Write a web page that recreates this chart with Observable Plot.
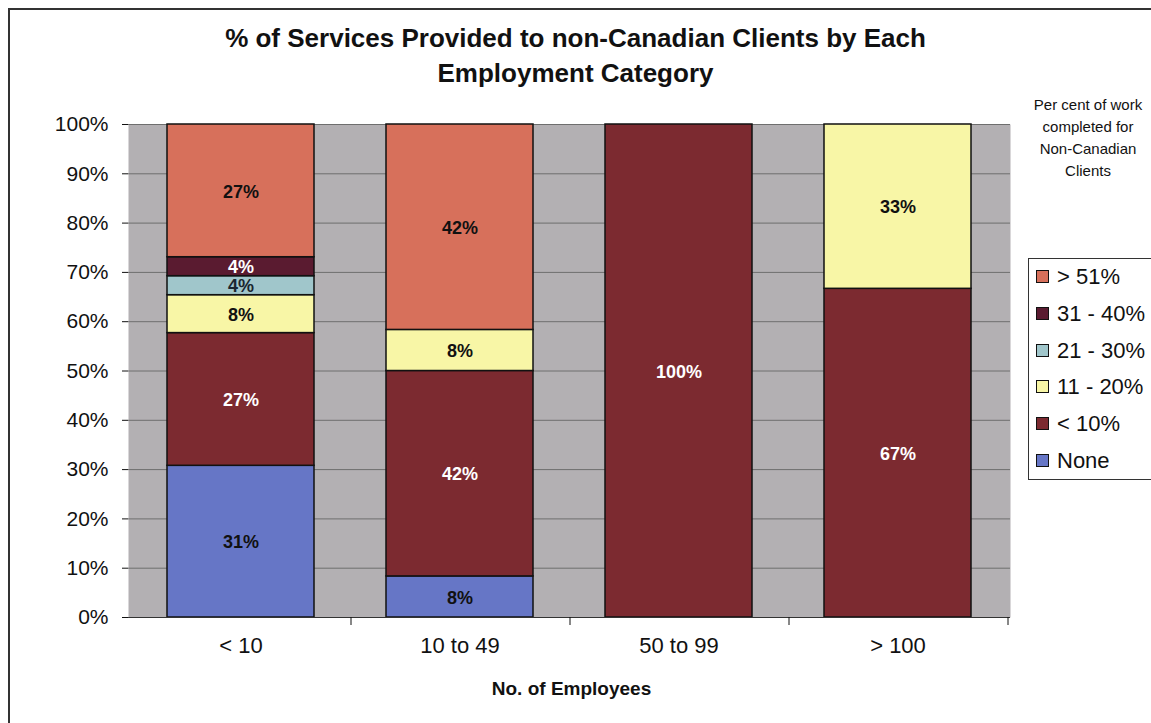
<!DOCTYPE html>
<html>
<head>
<meta charset="utf-8">
<script src="https://cdn.jsdelivr.net/npm/d3@7"></script>
<script src="https://cdn.jsdelivr.net/npm/@observablehq/plot@0.6"></script>
<style>
  html, body { margin: 0; padding: 0; background: #fff; }
  body { width: 1151px; height: 723px; overflow: hidden; position: relative; font-family: Arial, "Liberation Sans", sans-serif; }
  #frame { position: absolute; left: 8px; top: 8px; width: 1160px; height: 730px; border: 2px solid #333; box-sizing: border-box; }
  #chart { position: absolute; left: 0; top: 0; }
  #title { position: absolute; left: 0; width: 1151px; top: 21px; text-align: center; font-weight: bold; font-size: 26px; line-height: 35px; color: #111; }
  #xtitle { position: absolute; left: 0; width: 1143px; top: 678px; text-align: center; font-weight: bold; font-size: 19px; color: #111; }
  #legtitle { position: absolute; left: 1020px; width: 136px; top: 94px; text-align: center; font-size: 15px; line-height: 22px; color: #111; }
  #legend { position: absolute; left: 1028px; top: 258px; width: 140px; height: 222px; border: 1px solid #333; box-sizing: border-box; }
  .item { position: absolute; left: 7px; font-size: 22px; color: #111; line-height: 22px; white-space: nowrap; }
  .sw { display: inline-block; width: 11px; height: 11px; border: 1px solid #111; margin-right: 8px; vertical-align: 1px; }
</style>
</head>
<body>
<div id="frame"></div>
<div id="chart"></div>
<div id="title">% of Services Provided to non-Canadian Clients by Each<br>Employment Category</div>
<div id="xtitle">No. of Employees</div>
<div id="legtitle">Per cent of work<br>completed for<br>Non-Canadian<br>Clients</div>
<div id="legend"></div>
<script>
const categories = ["< 10", "10 to 49", "50 to 99", "> 100"];
const series = ["None", "< 10%", "11 - 20%", "21 - 30%", "31 - 40%", "> 51%"];
const seriesColors = ["#6676c6", "#7c2a30", "#f8f6a6", "#a0c6cb", "#5a1b30", "#d7705b"];
const labelColors = ["#111", "#fff", "#111", "#1a2630", "#fff", "#111"];
const valuesLt10 = [30.77, 26.92, 7.69, 3.85, 3.85, 26.92];
const values10to49 = [8.33, 41.67, 8.33, 0, 0, 41.67];
const values50to99 = [0, 100, 0, 0, 0, 0];
const valuesGt100 = [0, 66.67, 33.33, 0, 0, 0];
const yTicks = [0, 10, 20, 30, 40, 50, 60, 70, 80, 90, 100];

const valueSets = [valuesLt10, values10to49, values50to99, valuesGt100];
const rows = [];
categories.forEach((c, ci) => {
  series.forEach((s, si) => {
    const v = valueSets[ci][si];
    if (v > 0) rows.push({category: c, series: s, value: v, si});
  });
});

const chart = Plot.plot({
  width: 1151,
  height: 723,
  marginLeft: 128,
  marginRight: 141,
  marginTop: 124,
  marginBottom: 106,
  style: {fontFamily: "Arial, 'Liberation Sans', sans-serif", fontSize: "18px", color: "#111", background: "transparent"},
  x: {domain: categories, paddingInner: 0.33, paddingOuter: 0.175, label: null},
  y: {domain: [0, 100], label: null},
  color: {type: "identity"},
  marks: [
    Plot.frame({fill: "#b3b0b3", stroke: null}),
    Plot.gridY(yTicks, {stroke: "#6e6e6e", strokeOpacity: 1, strokeWidth: 1}),
    Plot.barY(rows, {x: "category", y: "value", z: "series", fill: d => seriesColors[d.si], stroke: "#111", strokeWidth: 1.5}),
    Plot.text(rows, Plot.stackY({x: "category", y: "value", z: "series",
      text: d => Math.round(d.value) + "%", fill: d => labelColors[d.si],
      fontWeight: "bold", fontSize: 18, dy: 1})),
    Plot.ruleY([0], {stroke: "#333"}),
    Plot.axisY({ticks: yTicks, tickFormat: d => d + "%", tickSize: 6, tickPadding: 14, fontSize: 21, label: null}),
    Plot.axisX({tickSize: 0, tickPadding: 20, fontSize: 22, label: null}),
    Plot.axisX({tickSize: 8, tickFormat: () => "", dx: 110, label: null})
  ]
});
document.getElementById("chart").appendChild(chart);

const leg = document.getElementById("legend");
const order = [5, 4, 3, 2, 1, 0];
order.forEach((si, i) => {
  const d = document.createElement("div");
  d.className = "item";
  d.style.top = (7 + i * 36.8) + "px";
  d.innerHTML = `<span class="sw" style="background:${seriesColors[si]}"></span>${series[si]}`;
  leg.appendChild(d);
});
</script>
</body>
</html>
